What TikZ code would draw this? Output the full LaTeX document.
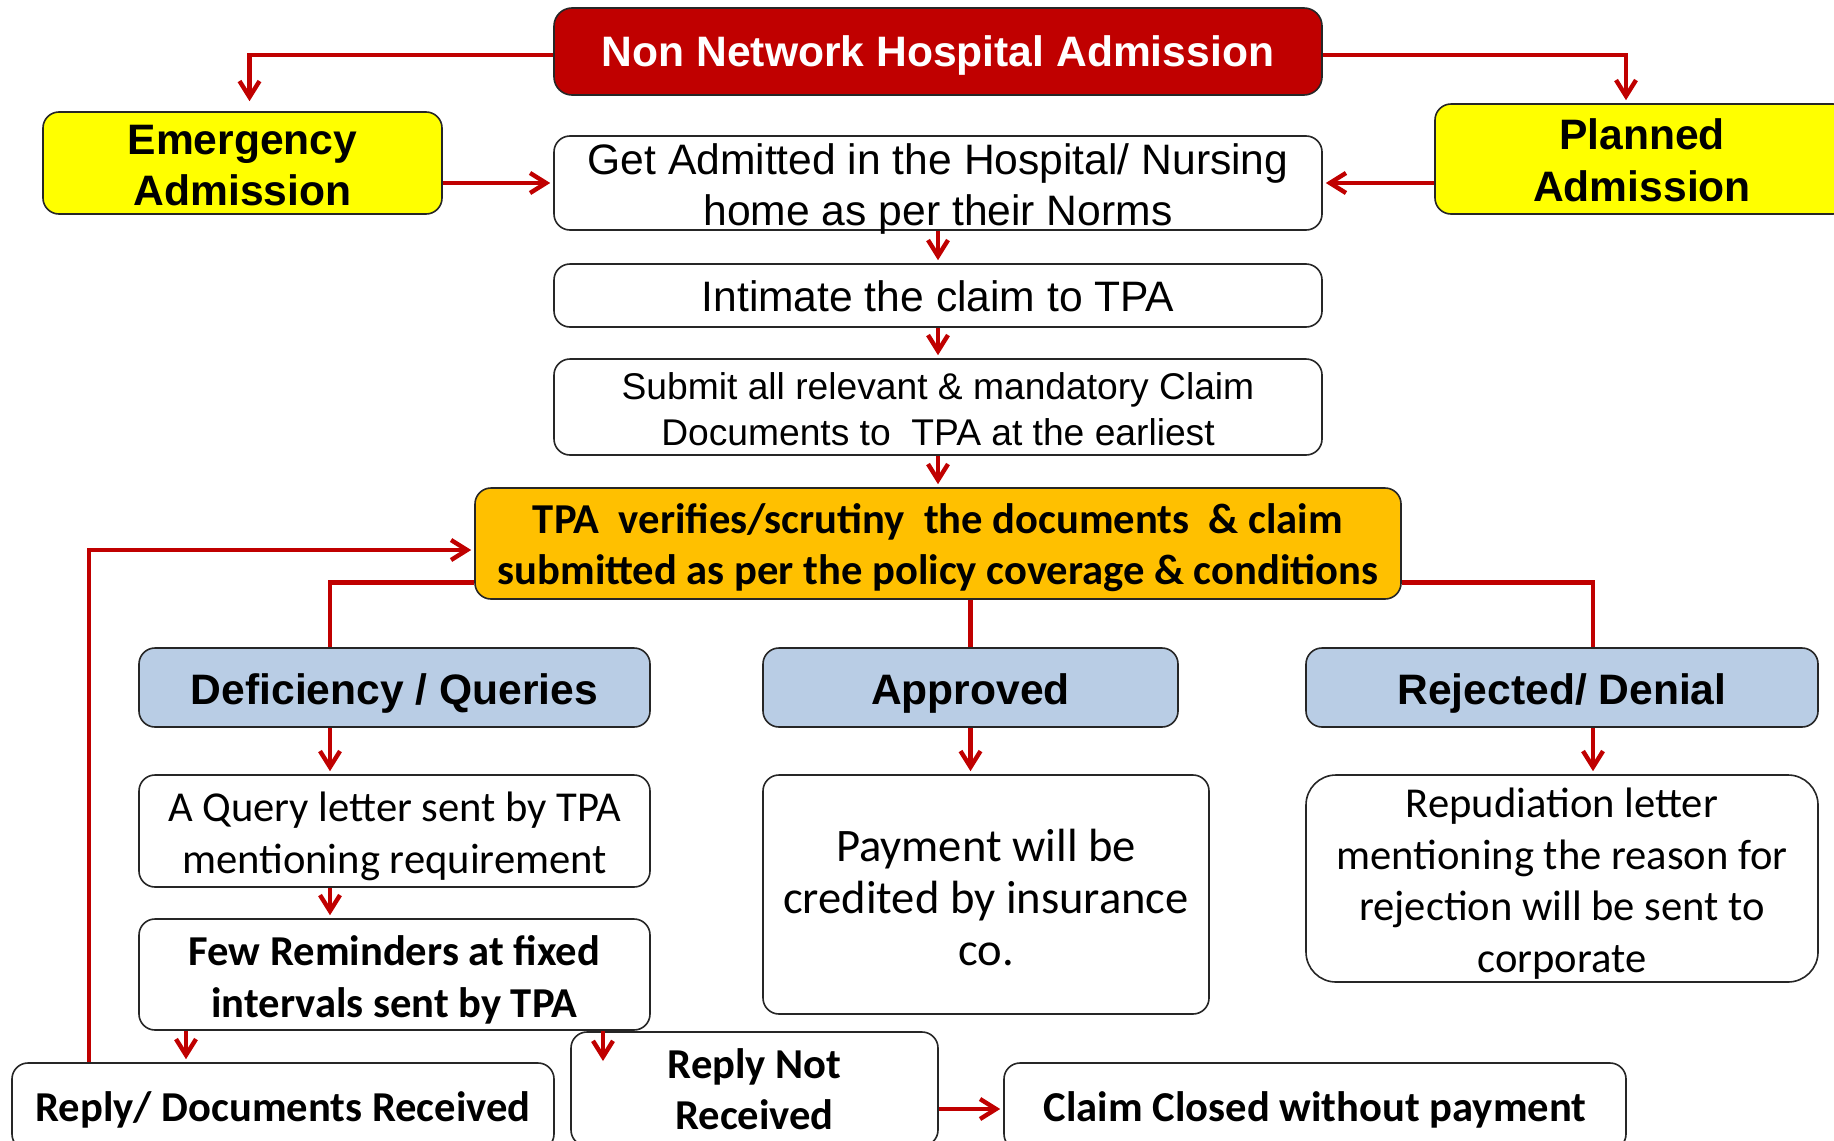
\documentclass[tikz,border=0pt]{standalone}
\usepackage{fontspec}
\setmainfont{Liberation Sans}
\newfontfamily\calib{Carlito}
\usetikzlibrary{arrows.meta}
\definecolor{dred}{HTML}{C00000}
\definecolor{yel}{HTML}{FFFF00}
\definecolor{orng}{HTML}{FFC000}
\definecolor{lblue}{HTML}{B9CDE5}
\newcommand\fsA{\fontsize{21.3}{25.8}\selectfont}
\newcommand\fsB{\fontsize{18.6}{22.8}\selectfont}
\newcommand\fsC{\fontsize{23.3}{25.8}\selectfont}
\begin{document}
\begin{tikzpicture}[x=0.5pt,y=-0.5pt,
  box/.style={draw=black!85, line width=0.8pt, rounded corners=8pt, inner sep=0pt, fill=white},
  txt/.style={align=center, inner sep=0pt, text=black},
  conn/.style={draw=dred, line width=2.2pt},
  arr/.style={conn, -{Straight Barb[length=8pt,width=10pt]}, shorten >=1.5pt}]
\clip (0,0) rectangle (1834,1140);
\useasboundingbox (0,0) rectangle (1834,1140);

% boxes
\node[box, fill=dred, minimum width=384pt, minimum height=43.5pt, rounded corners=9pt] (title) at (938,51.5) {};
\node[box, fill=yel, minimum width=199.5pt, minimum height=51pt] (emerg) at (242.5,163) {};
\node[box, fill=yel, minimum width=207pt, minimum height=55pt] (planned) at (1642,159) {};
\node[box, minimum width=384pt, minimum height=47pt] (get) at (938,183) {};
\node[box, minimum width=384pt, minimum height=31.5pt] (intim) at (938,295.5) {};
\node[box, minimum width=384pt, minimum height=48pt] (submit) at (938,407) {};
\node[box, fill=orng, minimum width=463pt, minimum height=55.5pt] (tpa) at (938,543.5) {};
\node[box, fill=lblue, minimum width=255.5pt, minimum height=39.5pt] (defic) at (394.5,687.5) {};
\node[box, fill=lblue, minimum width=207.5pt, minimum height=39.5pt] (appr) at (970.5,687.5) {};
\node[box, fill=lblue, minimum width=256pt, minimum height=39.5pt] (rej) at (1562,687.5) {};
\node[box, minimum width=255.5pt, minimum height=56pt] (query) at (394.5,831) {};
\node[box, minimum width=223pt, minimum height=119.5pt] (pay) at (986,894.5) {};
\node[box, rounded corners=15pt, minimum width=256pt, minimum height=103.5pt] (repud) at (1562,878.5) {};
\node[box, minimum width=255.5pt, minimum height=55.5pt] (fewrem) at (394.5,974.5) {};
\node[box, minimum width=271pt, minimum height=43.5pt] (docs) at (283,1106.5) {};
\node[box, minimum width=183.5pt, minimum height=57pt] (rnot) at (754.5,1089) {};
\node[box, minimum width=311pt, minimum height=43.5pt] (claim) at (1315,1106.5) {};

% texts
\node[txt, text=white, font=\fsA\bfseries] (title-t) at ([yshift=-1.75pt]title.center) {Non Network Hospital Admission};
\node[txt, font=\fsA\bfseries] (emerg-t) at ([yshift=-1.2pt]emerg.center) {Emergency\\Admission};
\node[txt, font=\fsA\bfseries] (planned-t) at ([yshift=-0.6pt]planned.center) {Planned\\Admission};
\node[txt, font=\fsA] (get-t) at ([yshift=-2.9pt]get.center) {Get Admitted in the Hospital/ Nursing\\home as per their Norms};
\node[txt, font=\fsA] (intim-t) at ([yshift=-0.6pt]intim.center) {Intimate the claim to TPA};
\node[txt, font=\fsB] (submit-t) at ([yshift=-1.2pt]submit.center) {Submit all relevant \& mandatory Claim\\Documents to\ \ TPA at the earliest};
\node[txt, font=\calib\fsA\bfseries] (tpa-t) at ([yshift=-2pt]tpa.center) {TPA\ \ verifies/scrutiny\ \ the documents\ \ \& claim\\submitted as per the policy coverage \& conditions};
\node[txt, font=\fsA\bfseries] (defic-t) at ([yshift=-2.9pt]defic.center) {Deficiency / Queries};
\node[txt, font=\fsA\bfseries] (appr-t) at ([yshift=-2.9pt]appr.center) {Approved};
\node[txt, font=\fsA\bfseries] (rej-t) at ([yshift=-2.9pt]rej.center) {Rejected/ Denial};
\node[txt, font=\calib\fsA] (query-t) at ([yshift=-2.6pt]query.center) {A Query letter sent by TPA\\mentioning requirement};
\node[txt, font=\calib\fsC] (pay-t) at ([yshift=-1.5pt]pay.center) {Payment will be\\credited by insurance\\co.};
\node[txt, font=\calib\fsA] (repud-t) at ([yshift=-2.6pt]repud.center) {Repudiation letter\\mentioning the reason for\\rejection will be sent to\\corporate};
\node[txt, font=\calib\fsA\bfseries] (fewrem-t) at ([yshift=-2.6pt]fewrem.center) {Few Reminders at fixed\\intervals sent by TPA};
\node[txt, font=\calib\fsA\bfseries] (docs-t) at ([yshift=-1.75pt]docs.center) {Reply/ Documents Received};
\node[txt, font=\calib\fsA\bfseries] (rnot-t) at (rnot.center) {Reply Not\\Received};
\node[txt, font=\calib\fsA\bfseries] (claim-t) at ([yshift=-1.75pt]claim.center) {Claim Closed without payment};

% helper coordinates
\coordinate (ytop) at (0,55);
\coordinate (ybr) at (0,582.5);
\coordinate (xL) at (186,0);
\coordinate (nrtip) at (603,1061);
\coordinate (xloop) at (89,550);
\coordinate (yrc) at (0,1109);

% connectors
\draw[arr, shorten >=5pt] (title.west |- ytop) -| ([xshift=3.5pt]emerg.north);
\draw[arr] (title.east |- ytop) -| ([xshift=-8pt]planned.north);
\draw[arr] (emerg.east |- get.west) -- (get.west);
\draw[arr] (planned.west |- get.east) -- (get.east);
\draw[arr] (get.south) -- (intim.north);
\draw[arr] (intim.south) -- (submit.north);
\draw[arr] (submit.south) -- (tpa.north);
\draw[conn] (tpa.west |- ybr) -| ([xshift=-32.25pt]defic.north);
\draw[conn] (appr.north |- tpa.south) -- (appr.north);
\draw[conn] (tpa.east |- ybr) -| ([xshift=15.5pt]rej.north);
\draw[arr] ([xshift=-32.25pt]defic.south) -- ([xshift=-32.25pt]query.north);
\draw[arr] (appr.south) -- (appr.south |- pay.north);
\draw[arr] ([xshift=15.5pt]rej.south) -- ([xshift=15.5pt]repud.north);
\draw[arr] ([xshift=-32.25pt]query.south) -- ([xshift=-32.25pt]fewrem.north);
\draw[arr] (fewrem.south -| xL) -- (docs.north -| xL);
\draw[arr, shorten >=0pt] (fewrem.south -| nrtip) -- (nrtip);
\draw[arr] (docs.north -| xloop) -- (xloop) -- (tpa.west |- xloop);
\draw[arr] (rnot.east |- yrc) -- (claim.west |- yrc);
\end{tikzpicture}
\end{document}
